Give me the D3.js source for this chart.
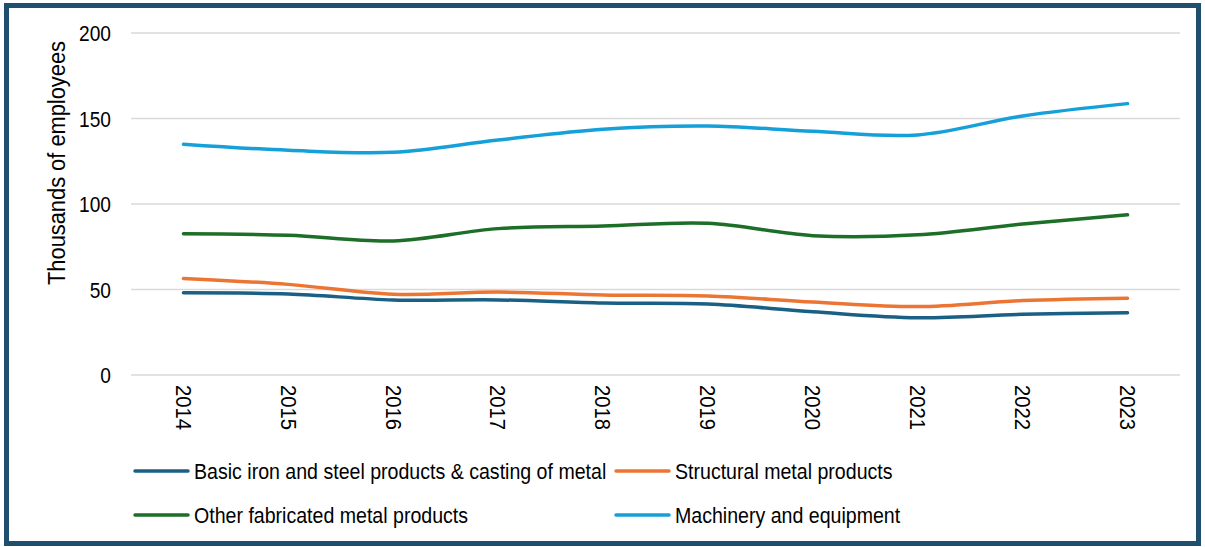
<!DOCTYPE html>
<html>
<head>
<meta charset="utf-8">
<script src="https://cdn.jsdelivr.net/npm/d3@7"></script>
<style>
  body { margin: 0; background: #fff; }
  svg text { font-family: "Liberation Sans Narrow", "Arial Narrow", "Liberation Sans", Arial, sans-serif; fill: #000; }
</style>
</head>
<body>
<svg id="chart" width="1205" height="547"></svg>
<script>
// Data (thousands of employees)
var years = ['2014', '2015', '2016', '2017', '2018', '2019', '2020', '2021', '2022', '2023'];
var basicIron = [48.1, 47.4, 43.9, 43.9, 42.1, 41.5, 37.0, 33.5, 35.5, 36.4];
var structural = [56.5, 53.0, 47.2, 48.5, 46.8, 46.2, 42.7, 40.0, 43.5, 44.9];
var otherFab = [82.6, 81.7, 78.4, 85.6, 87.1, 88.7, 81.5, 82.0, 88.3, 93.7];
var machinery = [135.0, 131.4, 130.2, 137.4, 143.7, 145.6, 142.5, 140.4, 151.5, 158.7];
var yTicks = [0, 50, 100, 150, 200];

var seriesNames = ['Basic iron and steel products & casting of metal', 'Structural metal products',
                   'Other fabricated metal products', 'Machinery and equipment'];
var seriesColors = ['#1a5f84', '#ed7534', '#1d6e27', '#16a0d9'];

var series = [basicIron, structural, otherFab, machinery].map(function(vals, i) {
    return {name: seriesNames[i], color: seriesColors[i], values: vals};
});

var svg = d3.select('#chart');

// outer frame
svg.append('rect')
    .attr('x', 6.5).attr('y', 5.5)
    .attr('width', 1192).attr('height', 538)
    .attr('fill', 'none')
    .attr('stroke', '#1f4f6c')
    .attr('stroke-width', 5);

var x = d3.scaleBand().domain(years).range([131, 1180]);
var y = d3.scaleLinear().domain([0, 200]).range([375, 33]);

// gridlines
svg.append('g')
    .selectAll('line')
    .data(yTicks)
    .join('line')
    .attr('x1', 131).attr('x2', 1180)
    .attr('y1', function(d) { return y(d); })
    .attr('y2', function(d) { return y(d); })
    .attr('stroke', '#d9d9d9')
    .attr('stroke-width', 1.5);

// y axis labels (narrow font faked with a horizontal squeeze)
var yAxis = d3.axisLeft(y).tickValues(yTicks).tickSize(0).tickPadding(0);
var yG = svg.append('g')
    .attr('transform', 'translate(111,0)')
    .call(yAxis);
yG.select('.domain').remove();
yG.selectAll('text')
    .attr('font-size', 22)
    .attr('x', 0)
    .attr('dy', '0.35em')
    .attr('transform', 'scale(0.87,1)')
    .style('font-family', null);

// x axis labels, rotated
var xAxis = d3.axisBottom(x).tickSize(0).tickPadding(0);
var xG = svg.append('g')
    .attr('transform', 'translate(0,385)')
    .call(xAxis);
xG.select('.domain').remove();
xG.selectAll('text')
    .attr('font-size', 22)
    .attr('text-anchor', 'start')
    .attr('transform', 'rotate(90) scale(0.92,1)')
    .attr('x', 0).attr('y', 0)
    .attr('dy', '0.35em')
    .style('font-family', null);

// axis title
svg.append('text')
    .attr('transform', 'translate(57,163) rotate(-90) scale(0.91,1)')
    .attr('text-anchor', 'middle')
    .attr('dy', '0.35em')
    .attr('font-size', 24)
    .text('Thousands of employees');

// lines
var line = d3.line()
    .x(function(d, i) { return x(years[i]) + x.bandwidth() / 2; })
    .y(function(d) { return y(d); })
    .curve(d3.curveCardinal.tension(0));

svg.append('g')
    .selectAll('path')
    .data(series)
    .join('path')
    .attr('d', function(d) { return line(d.values); })
    .attr('fill', 'none')
    .attr('stroke', function(d) { return d.color; })
    .attr('stroke-width', 3.5)
    .attr('stroke-linecap', 'round');

// legend
var legendPos = [[135, 471], [616, 471], [135, 515], [616, 515]];
var legend = svg.append('g')
    .selectAll('g')
    .data(series)
    .join('g')
    .attr('transform', function(d, i) { return 'translate(' + legendPos[i] + ')'; });

legend.append('line')
    .attr('x1', 0).attr('x2', 53)
    .attr('stroke', function(d) { return d.color; })
    .attr('stroke-width', 3.5)
    .attr('stroke-linecap', 'round');

legend.append('text')
    .attr('transform', 'translate(59,0) scale(0.89,1)')
    .attr('dy', '0.35em')
    .attr('font-size', 22)
    .text(function(d) { return d.name; });
</script>
</body>
</html>
